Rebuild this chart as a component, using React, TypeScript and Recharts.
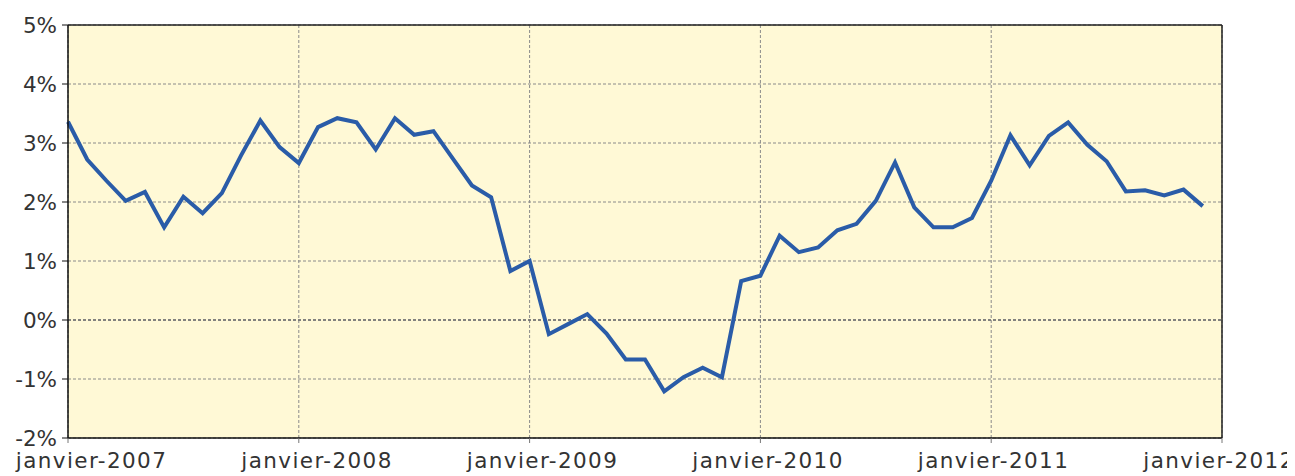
import React from 'react'
import {
  LineChart,
  Line,
  XAxis,
  YAxis,
  CartesianGrid,
  ReferenceLine,
} from 'recharts'

// monthly values, janvier 2007 -> décembre 2011 (in %)
const values2007 = [3.36, 2.72, 2.36, 2.02, 2.17, 1.57, 2.09, 1.81, 2.15, 2.79, 3.38, 2.93]
const values2008 = [2.66, 3.27, 3.42, 3.35, 2.89, 3.42, 3.14, 3.2, 2.74, 2.28, 2.08, 0.83]
const values2009 = [1.0, -0.24, -0.07, 0.1, -0.23, -0.67, -0.67, -1.21, -0.97, -0.81, -0.97, 0.66]
const values2010 = [0.75, 1.43, 1.15, 1.23, 1.52, 1.63, 2.02, 2.67, 1.91, 1.57, 1.57, 1.73]
const values2011 = [2.36, 3.13, 2.62, 3.12, 3.35, 2.97, 2.69, 2.18, 2.2, 2.11, 2.21, 1.93]

const yearLabels = ['janvier-2007', 'janvier-2008', 'janvier-2009', 'janvier-2010', 'janvier-2011', 'janvier-2012']
const yearTicks = [0, 12, 24, 36, 48, 60]
const pctTicks = [-2, -1, 0, 1, 2, 3, 4, 5]

const allValues = [...values2007, ...values2008, ...values2009, ...values2010, ...values2011]
const data = allValues.map((v, i) => ({ month: i, value: v }))

const FONT = '"DejaVu Sans", sans-serif'

function YearTick({ x, y, payload, index }: any) {
  // labels in the original sit a bit right of their tick, less so going right
  const dx = 23.5 - 5.3 * (index ?? 0)
  return (
    <text
      x={x + dx}
      y={y}
      dy="0.71em"
      textAnchor="middle"
      fill="#333"
      fontSize={21.5}
      fontFamily={FONT}
      letterSpacing={1.4}
    >
      {yearLabels[yearTicks.indexOf(payload.value)]}
    </text>
  )
}

export default function App() {
  return (
    <LineChart
      width={1287}
      height={468}
      data={data}
      margin={{ top: 17, right: 73, bottom: 0, left: 0 }}
    >
      <CartesianGrid
        fill="#FFF9D6"
        stroke="#8a8a8a"
        strokeDasharray="3 2"
        verticalValues={yearTicks}
        horizontalValues={pctTicks}
      />
      <XAxis
        dataKey="month"
        type="number"
        domain={[0, 60]}
        ticks={yearTicks}
        interval={0}
        height={38}
        tickSize={5}
        tickMargin={10}
        axisLine={{ stroke: '#111', strokeWidth: 1.5 }}
        tickLine={{ stroke: '#777' }}
        tick={<YearTick />}
      />
      <YAxis
        type="number"
        domain={[-2, 5]}
        ticks={pctTicks}
        interval={0}
        width={60}
        tickSize={6}
        tickMargin={5}
        tickFormatter={(v) => `${v}%`}
        axisLine={{ stroke: '#111', strokeWidth: 1.5 }}
        tickLine={{ stroke: '#111' }}
        tick={{ fill: '#333', fontSize: 21.5, fontFamily: FONT }}
      />
      <ReferenceLine y={0} stroke="#6e6e6e" strokeWidth={1.6} strokeDasharray="3 2" />
      <ReferenceLine y={5} stroke="#222" strokeWidth={1.5} />
      <ReferenceLine x={60} stroke="#222" strokeWidth={1.5} />
      <Line
        type="linear"
        dataKey="value"
        stroke="#2A5CA8"
        strokeWidth={4}
        dot={false}
        isAnimationActive={false}
      />
    </LineChart>
  )
}
